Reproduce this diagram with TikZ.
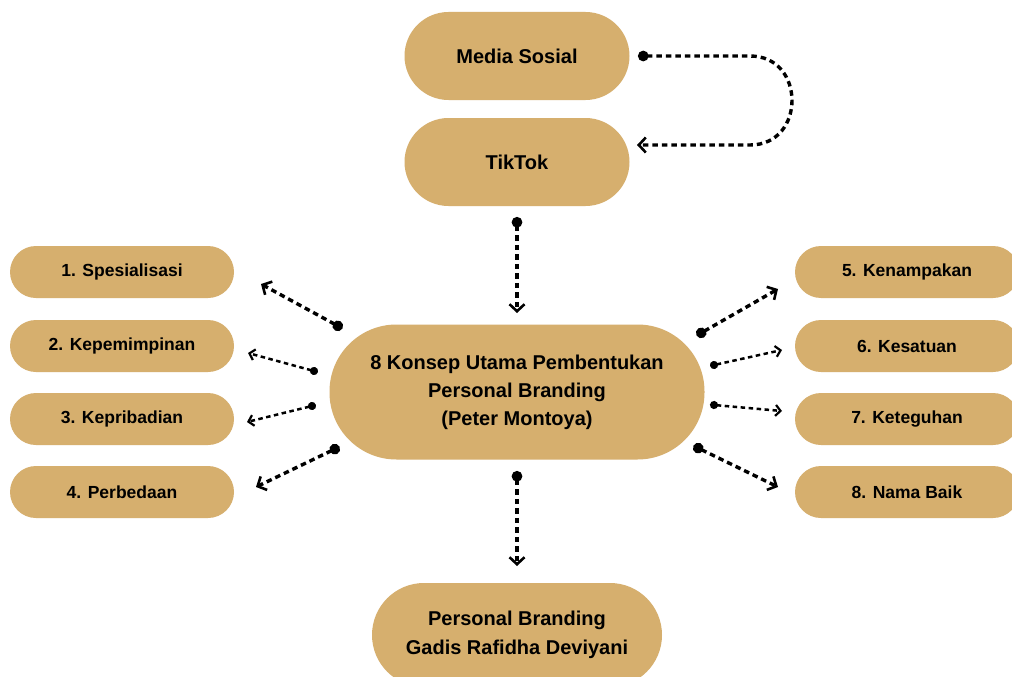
\documentclass[tikz,border=0pt]{standalone}
\usepackage{fontspec}
\setmainfont{Liberation Sans}
\usetikzlibrary{arrows.meta}
\definecolor{pill}{HTML}{D6AF6E}
\tikzset{
  box/.style={fill=pill, draw=none, rounded corners=#1, align=center, font=\bfseries, inner sep=0pt},
  big/.style={font=\fontsize{20}{28}\selectfont\bfseries},
  small/.style={box=26pt, minimum width=224pt, minimum height=52pt, font=\fontsize{17.5}{20}\selectfont\bfseries},
  conn/.style={line width=3.4pt, dash pattern=on 5.5pt off 4pt, shorten <=-5pt, arrows={Circle[length=10.5pt]-Straight Barb[length=7pt,width=15pt,line width=2.6pt]}},
  thin conn/.style={line width=2.5pt, dash pattern=on 4.5pt off 3.5pt, shorten <=-4pt, arrows={Circle[length=8pt]-Straight Barb[length=5pt,width=11pt,line width=2.2pt]}}
}
\begin{document}
\begin{tikzpicture}[x=1pt,y=-1pt]
\clip (0,0) rectangle (1012,677);
\fill[white] (0,0) rectangle (1012,677);
% main nodes
\node[box=44pt, minimum width=225pt, minimum height=88pt, big] (ms) at (517,56) {Media Sosial};
\node[box=44pt, minimum width=225pt, minimum height=88pt, big] (tt) at (517,162) {TikTok};
\node[box=67pt, minimum width=375pt, minimum height=135pt, big] (c) at (517,392) {8 Konsep Utama Pembentukan\\Personal Branding\\(Peter Montoya)};
\node[box=52pt, minimum width=290pt, minimum height=104pt, big, font=\fontsize{20}{29}\selectfont\bfseries] (pb) at (517,635) {Personal Branding\\Gadis Rafidha Deviyani};
% left
\node[small] (l1) at (122,272) {1. Spesialisasi};
\node[small] (l2) at (122,346) {2. Kepemimpinan};
\node[small] (l3) at (122,419) {3. Kepribadian};
\node[small] (l4) at (122,492) {4. Perbedaan};
% right
\node[small] (r1) at (907,272) {5. Kenampakan};
\node[small] (r2) at (907,346) {6. Kesatuan};
\node[small] (r3) at (907,419) {7. Keteguhan};
\node[small] (r4) at (907,492) {8. Nama Baik};
% connector end points
\coordinate (msS) at (643,56);
\coordinate (ttE) at (637,145);
\coordinate (ttS) at (517,222);
\coordinate (cN) at (517,313);
\coordinate (cS) at (517,476);
\coordinate (pbN) at (517,566);
\coordinate (a1) at (338,326); \coordinate (l1E) at (261,284);
\coordinate (a2) at (314,371); \coordinate (l2E) at (248,353);
\coordinate (a3) at (312,406); \coordinate (l3E) at (247,422);
\coordinate (a4) at (335,449); \coordinate (l4E) at (256,487);
\coordinate (b1) at (701,333); \coordinate (r1W) at (778,289);
\coordinate (b2) at (714,365); \coordinate (r2W) at (782,350);
\coordinate (b3) at (714,405); \coordinate (r3W) at (782,411);
\coordinate (b4) at (698,448); \coordinate (r4W) at (778,487);
% connectors
\draw[conn] (msS) -- (750,56) .. controls (806,56) and (806,145) .. (750,145) -- (ttE);
\draw[conn] (ttS) -- (cN);
\draw[conn] (cS) -- (pbN);
\draw[conn] (a1) -- (l1E);
\draw[thin conn] (a2) -- (l2E);
\draw[thin conn] (a3) -- (l3E);
\draw[conn] (a4) -- (l4E);
\draw[conn] (b1) -- (r1W);
\draw[thin conn] (b2) -- (r2W);
\draw[thin conn] (b3) -- (r3W);
\draw[conn] (b4) -- (r4W);
\end{tikzpicture}
\end{document}
